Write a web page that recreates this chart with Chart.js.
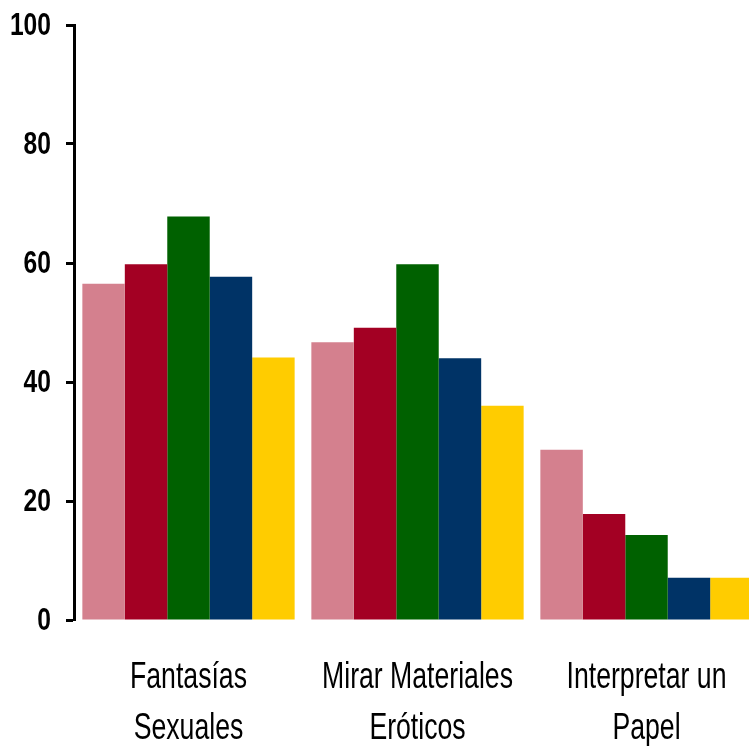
<!DOCTYPE html>
<html>
<head>
<meta charset="utf-8">
<script src="https://cdn.jsdelivr.net/npm/chart.js@4/dist/chart.umd.min.js"></script>
<style>
  html, body { margin: 0; padding: 0; background: #fff; overflow: hidden; }
  #wrap { width: 749px; height: 746px; overflow: hidden; }
</style>
</head>
<body>
<div id="wrap"><canvas id="grafico" width="761" height="746"></canvas></div>
<script>
var categorias = [['Fantasías', 'Sexuales'], ['Mirar Materiales', 'Eróticos'], ['Interpretar un', 'Papel']];
var serie1 = [56.5, 46.7, 28.6];
var serie2 = [59.8, 49.1, 17.8];
var serie3 = [67.8, 59.8, 14.3];
var serie4 = [57.7, 44.0, 7.1];
var serie5 = [44.1, 36.0, 7.1];
var ticksY = [0, 20, 40, 60, 80, 100];

var colores = ['#D4808E', '#A30023', '#006100', '#003366', '#FFCC00'];
var series = [serie1, serie2, serie3, serie4, serie5];

var datasets = [];
for (var i = 0; i < series.length; i++) {
    datasets.push({
        label: 'Serie ' + (i + 1),
        data: series[i],
        backgroundColor: colores[i],
        borderWidth: 0
    });
}

// texto estrecho (fuente tipo Arial Narrow), dibujado con escala horizontal
function textoEstrecho(ctx, txt, x, y, escala, align) {
    ctx.save();
    ctx.translate(x, y);
    ctx.scale(escala, 1);
    ctx.textAlign = align;
    ctx.fillText(txt, 0, 0);
    ctx.restore();
}

var etiquetas = {
    id: 'etiquetas',
    afterDraw: function (chart) {
        var ctx = chart.ctx;
        var area = chart.chartArea;
        var sy = chart.scales.y;
        var sx = chart.scales.x;
        ctx.save();
        ctx.fillStyle = '#000';

        ctx.font = 'bold 32px "Liberation Sans", Arial, sans-serif';
        ctx.textBaseline = 'middle';
        ticksY.forEach(function (v) {
            textoEstrecho(ctx, String(v), area.left - 23, sy.getPixelForValue(v) + 1, 0.77, 'right');
        });

        ctx.font = '36px "Liberation Sans", Arial, sans-serif';
        ctx.textBaseline = 'alphabetic';
        categorias.forEach(function (lineas, i) {
            var x = sx.getPixelForTick(i);
            lineas.forEach(function (l, j) {
                textoEstrecho(ctx, l, x, area.bottom + 68 + j * 51, 0.74, 'center');
            });
        });
        ctx.restore();
    }
};

var ctx = document.getElementById('grafico').getContext('2d');
var chart = new Chart(ctx, {
    type: 'bar',
    data: { labels: categorias, datasets: datasets },
    plugins: [etiquetas],
    options: {
        responsive: false,
        animation: false,
        layout: { padding: { top: 25, left: 66, right: 0, bottom: 126 } },
        plugins: { legend: { display: false }, tooltip: { enabled: false } },
        datasets: { bar: { categoryPercentage: 0.927, barPercentage: 1 } },
        scales: {
            x: {
                grid: { display: false, drawTicks: false },
                border: { display: false },
                ticks: { display: false }
            },
            y: {
                min: 0,
                max: 100,
                afterBuildTicks: function (axis) {
                    axis.ticks = ticksY.map(function (v) { return { value: v }; });
                },
                border: { display: true, color: '#000', width: 3 },
                grid: { drawOnChartArea: false, color: '#000', tickLength: 8, tickWidth: 3 },
                ticks: { display: false }
            }
        }
    }
});
</script>
</body>
</html>
